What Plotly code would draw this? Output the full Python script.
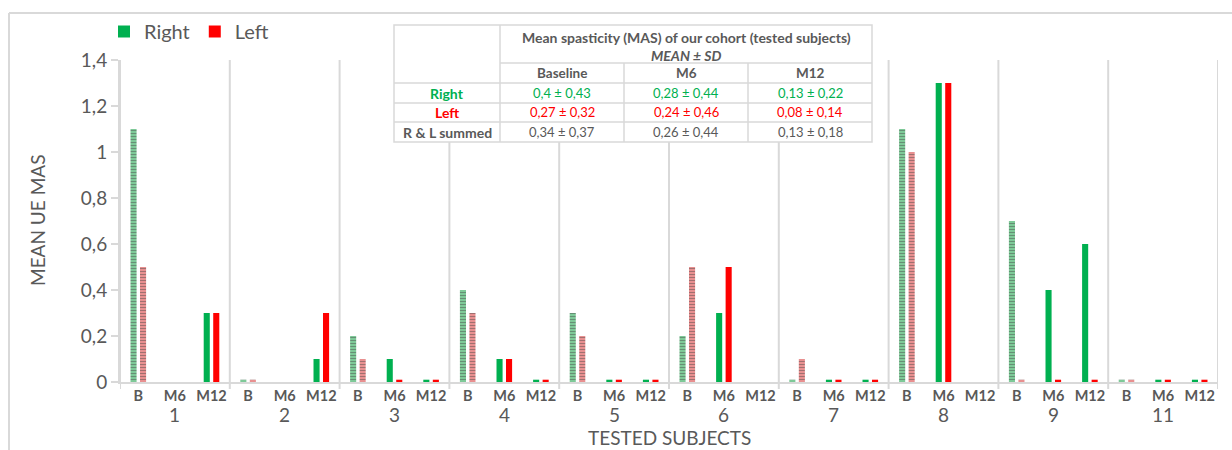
import plotly.graph_objects as go

# ---------------- data ----------------
subjects = ["1", "2", "3", "4", "5", "6", "7", "8", "9", "11"]
timepoints = ["B", "M6", "M12"]

right_B = [1.1, 0.01, 0.2, 0.4, 0.3, 0.2, 0.01, 1.1, 0.7, 0.01]
right_M6 = [None, None, 0.1, 0.1, 0.01, 0.3, 0.01, 1.3, 0.4, 0.01]
right_M12 = [0.3, 0.1, 0.01, 0.01, 0.01, None, 0.01, None, 0.6, 0.01]

left_B = [0.5, 0.01, 0.1, 0.3, 0.2, 0.5, 0.1, 1.0, 0.01, 0.01]
left_M6 = [None, None, 0.01, 0.1, 0.01, 0.5, 0.01, 1.3, 0.01, 0.01]
left_M12 = [0.3, 0.3, 0.01, 0.01, 0.01, None, 0.01, None, 0.01, 0.01]

y_ticks = [0, 0.2, 0.4, 0.6, 0.8, 1.0, 1.2, 1.4]

table_title = "Mean spasticity (MAS) of our cohort (tested subjects)"
table_subtitle = "MEAN ± SD"
table_cols = ["Baseline", "M6", "M12"]
table_rows = ["Right", "Left", "R & L summed"]
table_vals = [
    ["0,4 ± 0,43", "0,28 ± 0,44", "0,13 ± 0,22"],
    ["0,27 ± 0,32", "0,24 ± 0,46", "0,08 ± 0,14"],
    ["0,34 ± 0,37", "0,26 ± 0,44", "0,13 ± 0,18"],
]

# ---------------- styles ----------------
GREEN = "#00b050"
GREEN_LIGHT = "#86dca4"
RED = "#ff0000"
RED_LIGHT = "#ff9a9a"
GRAY_TXT = "#595959"
GRAY_LINE = "#d9d9d9"
FONT = "Lato, Carlito, 'Open Sans', sans-serif"

# plot area in pixels
PL, PR, PT, PB = 120, 1218, 60, 382
PW, PH = PR - PL, PB - PT


def fx(px):
    return (px - PL) / PW


def fy(py):
    return (PB - py) / PH


# positions: one slot per (subject, timepoint)
n_t = len(timepoints)
xs, r_vals, l_vals, shapes_pat = [], [], [], []
for i, s in enumerate(subjects):
    series_r = [right_B[i], right_M6[i], right_M12[i]]
    series_l = [left_B[i], left_M6[i], left_M12[i]]
    for j, t in enumerate(timepoints):
        xs.append(i * n_t + j)
        r_vals.append(series_r[j])
        l_vals.append(series_l[j])
        shapes_pat.append("-" if t == "B" else "")

r_colors = [GREEN_LIGHT if p == "-" else GREEN for p in shapes_pat]
l_colors = [RED_LIGHT if p == "-" else RED for p in shapes_pat]

fig = go.Figure()
fig.add_trace(go.Bar(
    x=xs, y=r_vals, name="Right", offsetgroup="R", showlegend=False,
    marker=dict(color=r_colors, line=dict(width=0),
                pattern=dict(shape=shapes_pat, fgcolor=GREEN, size=3, solidity=0.5)),
))
fig.add_trace(go.Bar(
    x=xs, y=l_vals, name="Left", offsetgroup="L", showlegend=False,
    marker=dict(color=l_colors, line=dict(width=0),
                pattern=dict(shape=shapes_pat, fgcolor=RED, size=3, solidity=0.5)),
))
# legend entries (solid squares)
fig.add_trace(go.Bar(x=[None], y=[None], name="Right", offsetgroup="R",
                     marker=dict(color=GREEN, line=dict(width=0))))
fig.add_trace(go.Bar(x=[None], y=[None], name="Left", offsetgroup="L",
                     marker=dict(color=RED, line=dict(width=0))))

shapes = []
# group dividers
for k in range(len(subjects) + 1):
    shapes.append(dict(type="line", xref="x", yref="paper",
                       x0=k * n_t - 0.5, x1=k * n_t - 0.5, y0=fy(389), y1=1,
                       line=dict(color=GRAY_LINE, width=2), layer="below"))
# outer frame (left + top)
shapes.append(dict(type="line", xref="paper", yref="paper",
                   x0=fx(9), x1=fx(9), y0=fy(13), y1=fy(460),
                   line=dict(color=GRAY_LINE, width=2)))
shapes.append(dict(type="line", xref="paper", yref="paper",
                   x0=fx(9), x1=fx(1240), y0=fy(13), y1=fy(13),
                   line=dict(color=GRAY_LINE, width=2)))

# table geometry (pixels)
tx = [394, 500, 624, 748, 872]
ty = [25, 63, 83, 103, 122, 142]
shapes.append(dict(type="rect", xref="paper", yref="paper",
                   x0=fx(tx[0]), x1=fx(tx[-1]), y0=fy(ty[0]), y1=fy(ty[-1]),
                   fillcolor="white", line=dict(color=GRAY_LINE, width=1.5)))
shapes.append(dict(type="line", xref="paper", yref="paper",
                   x0=fx(tx[1]), x1=fx(tx[1]), y0=fy(ty[0]), y1=fy(ty[-1]),
                   line=dict(color=GRAY_LINE, width=1.5)))
for cx in tx[2:4]:
    shapes.append(dict(type="line", xref="paper", yref="paper",
                       x0=fx(cx), x1=fx(cx), y0=fy(ty[1]), y1=fy(ty[-1]),
                       line=dict(color=GRAY_LINE, width=1.5)))
shapes.append(dict(type="line", xref="paper", yref="paper",
                   x0=fx(tx[1]), x1=fx(tx[-1]), y0=fy(ty[1]), y1=fy(ty[1]),
                   line=dict(color=GRAY_LINE, width=1.5)))
for ry in ty[2:5]:
    shapes.append(dict(type="line", xref="paper", yref="paper",
                       x0=fx(tx[0]), x1=fx(tx[-1]), y0=fy(ry), y1=fy(ry),
                       line=dict(color=GRAY_LINE, width=1.5)))

annotations = []


def ann(text, px, py, size, color=GRAY_TXT, **kw):
    annotations.append(dict(text=text, xref="paper", yref="paper", x=fx(px), y=fy(py),
                            xanchor="center", yanchor="middle", showarrow=False,
                            font=dict(family=FONT, size=size, color=color), **kw))


col_centers = [(tx[c] + tx[c + 1]) / 2 for c in range(1, 4)]
row_centers = [(ty[r] + ty[r + 1]) / 2 for r in range(2, 5)]
ann("<b>" + table_title + "</b>", (tx[1] + tx[-1]) / 2, 37, 14)
ann("<b><i>" + table_subtitle + "</i></b>", (tx[1] + tx[-1]) / 2, 55, 14)
for c, name in enumerate(table_cols):
    ann("<b>" + name + "</b>", col_centers[c], (ty[1] + ty[2]) / 2, 13.5)
row_colors = [GREEN, RED, GRAY_TXT]
for r, name in enumerate(table_rows):
    ann("<b>" + name + "</b>", (tx[0] + tx[1]) / 2, row_centers[r], 14, row_colors[r])
    for c in range(3):
        ann(table_vals[r][c], col_centers[c], row_centers[r], 13, row_colors[r])

# subject labels (second level of x axis)
for i, s in enumerate(subjects):
    annotations.append(dict(text=s, xref="x", yref="paper", x=i * n_t + 1, y=fy(414),
                            xanchor="center", yanchor="middle", showarrow=False,
                            font=dict(family=FONT, size=19, color=GRAY_TXT)))
# axis titles
ann("TESTED SUBJECTS", (PL + PR) / 2, 438, 19)
ann("MEAN UE MAS", 37, (PT + PB) / 2, 19, textangle=-90)

fig.update_layout(
    width=1232, height=450,
    margin=dict(l=PL, r=1232 - PR, t=PT, b=450 - PB, autoexpand=False),
    paper_bgcolor="white", plot_bgcolor="white",
    separators=", ",
    barmode="group", bargap=0.48, bargroupgap=0.36,
    font=dict(family=FONT, color=GRAY_TXT),
    legend=dict(orientation="h", x=fx(104), xanchor="left", y=fy(12), yanchor="top",
                font=dict(family=FONT, size=20, color=GRAY_TXT),
                itemwidth=30, tracegroupgap=0, bgcolor="rgba(0,0,0,0)"),
    xaxis=dict(range=[-0.5, len(subjects) * n_t - 0.5], showgrid=False, zeroline=False,
               tickmode="array", tickvals=xs,
               ticktext=[timepoints[x % n_t] for x in xs],
               tickfont=dict(family=FONT, size=14.5, color=GRAY_TXT, weight="bold"),
               ticks="", showline=True, linecolor=GRAY_LINE, linewidth=2),
    yaxis=dict(range=[0, 1.4], tickvals=y_ticks, showgrid=False, zeroline=False,
               ticks="outside", ticklen=7, tickwidth=2, tickcolor=GRAY_LINE,
               showline=True, linecolor=GRAY_LINE, linewidth=2,
               tickfont=dict(family=FONT, size=19, color=GRAY_TXT)),
    shapes=shapes,
    annotations=annotations,
)

fig.write_html("out.html", config={"displayModeBar": False},
               post_script="document.body.style.margin='0px';")
